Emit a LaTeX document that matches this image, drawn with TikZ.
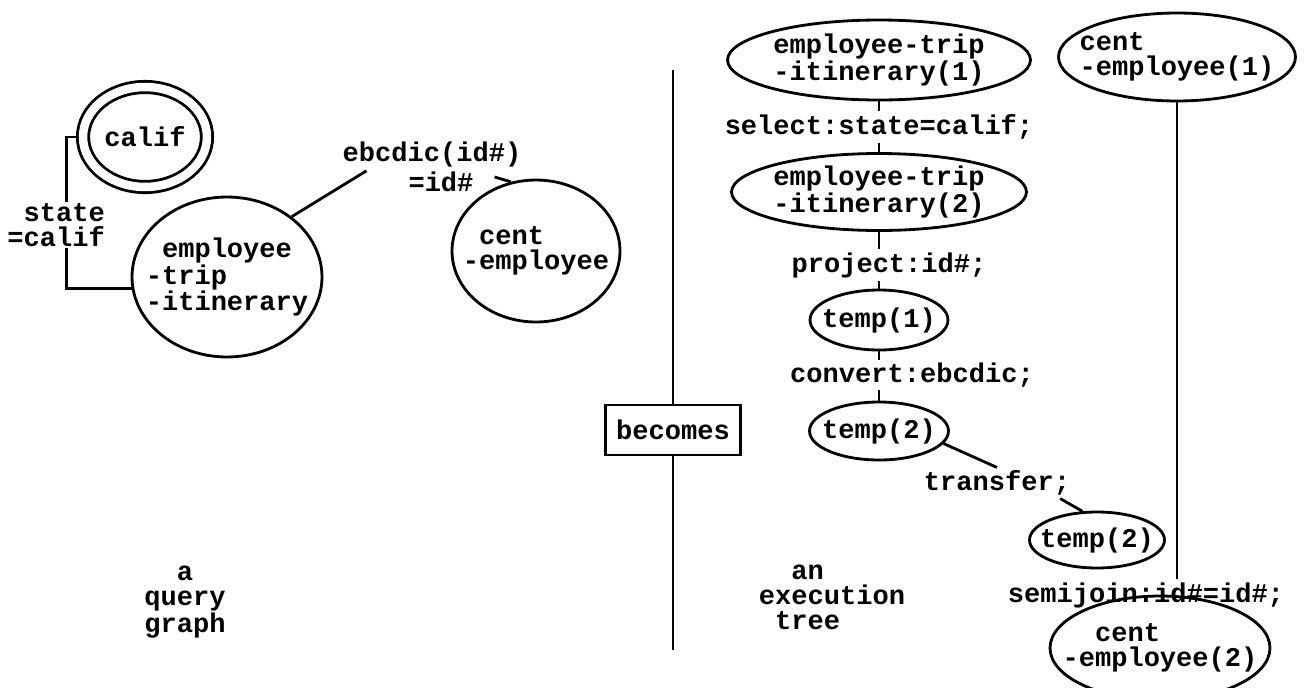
\documentclass[tikz,border=0pt]{standalone}
\usepackage{fontspec}
\setmonofont{Liberation Mono}
\usetikzlibrary{shapes.geometric}

\begin{document}
\begin{tikzpicture}[
		x=0.02cm, y=-0.02cm, line width=1.6pt,
		every node/.style={font=\ttfamily\bfseries\fontsize{15.4}{14.3}\selectfont},
		rel/.style={ellipse, draw, inner sep=-1cm},
		op/.style={inner sep=1pt},
	]
	\useasboundingbox (0,0) rectangle (1306,687);

	% query graph
	\node[rel, minimum width=2.48cm, minimum height=2.0cm, double, double distance=0.17cm] (calif) at (145,137) {calif};
	\node[rel, minimum width=3.8cm, minimum height=3.2cm, align=left] (emp) at (227,277) {\phantom{-}employee\\-trip\\-itinerary};
	\node[rel, minimum width=3.36cm, minimum height=2.84cm, align=left] (cent) at (536,251) {\phantom{-}cent\\-employee};
	\node[op] (jn1) at (432,155) {ebcdic(id\#)};
	\node[op] (jn2) at (441,182) {=id\#};

	\draw ([xshift=-0.12cm]calif.west) -- ++(-9,0) |- (emp.187);
	\node[op, fill=white, align=right, anchor=east] (st) at (108,225) {state\\=calif};
	\draw (emp.43) -- ([xshift=0.54cm]jn1.south west);
	\draw ([shift={(18,-5)}]jn2.east) -- (cent.110);

	\node[align=center] (qcap) at (185,602) {a\\query\\graph};

	% divider
	\node[draw, minimum width=2.7cm, minimum height=1cm] (bec) at (673,430) {becomes};
	\coordinate (dtop) at (673,70);
	\coordinate (dbot) at (673,650);
	\draw (dtop) -- (bec);
	\draw (bec) -- (dbot);

	% execution tree
	\node[rel, minimum width=6.06cm, minimum height=1.6cm, align=center] (e1) at (879,60) {employee-trip\\-itinerary(1)};
	\node[op] (sel) at (879,127) {select:state=calif;};
	\node[rel, minimum width=5.9cm, minimum height=1.54cm, align=center] (e2) at (879,192) {employee-trip\\-itinerary(2)};
	\node[op] (prj) at (889,265) {project:id\#;};
	\node[rel, minimum width=2.76cm, minimum height=1.2cm] (t1) at (879,320) {temp(1)};
	\node[op] (cnv) at (912,375) {convert:ebcdic;};
	\node[rel, minimum width=2.78cm, minimum height=1.16cm] (t2) at (879,431) {temp(2)};
	\node[op] (trf) at (997,483) {transfer;};
	\node[rel, minimum width=2.7cm, minimum height=1.12cm] (t3) at (1097,540) {temp(2)};
	\node[rel, minimum width=4.74cm, minimum height=1.76cm, align=left] (c1) at (1177,57) {cent\\-employee(1)};
	\node[op] (smj) at (1146,595) {semijoin:id\#=id\#;};
	\node[rel, minimum width=4.4cm, minimum height=2.08cm, align=left] (c2) at (1160,648) {\phantom{-e}cent\\-employee(2)};

	\draw (e1.south) -- (e1.south |- sel.north);
	\draw (sel.south -| e2.north) -- (e2.north);
	\draw (e2.south) -- (e2.south |- prj.north);
	\draw (prj.south -| t1.north) -- (t1.north);
	\draw (t1.south) -- (t1.south |- cnv.north);
	\draw (cnv.south -| t2.north) -- (t2.north);
	\draw (t2.-11) -- (trf.north);
	\draw ([xshift=-0.26cm]trf.south east) -- (t3.117);
	\draw (c1.south) -- (c1.south |- smj.north);

	\node[align=left] (tcap) at (832,597) {\phantom{xx}an\\execution\\\phantom{x}tree};
\end{tikzpicture}
\end{document}
